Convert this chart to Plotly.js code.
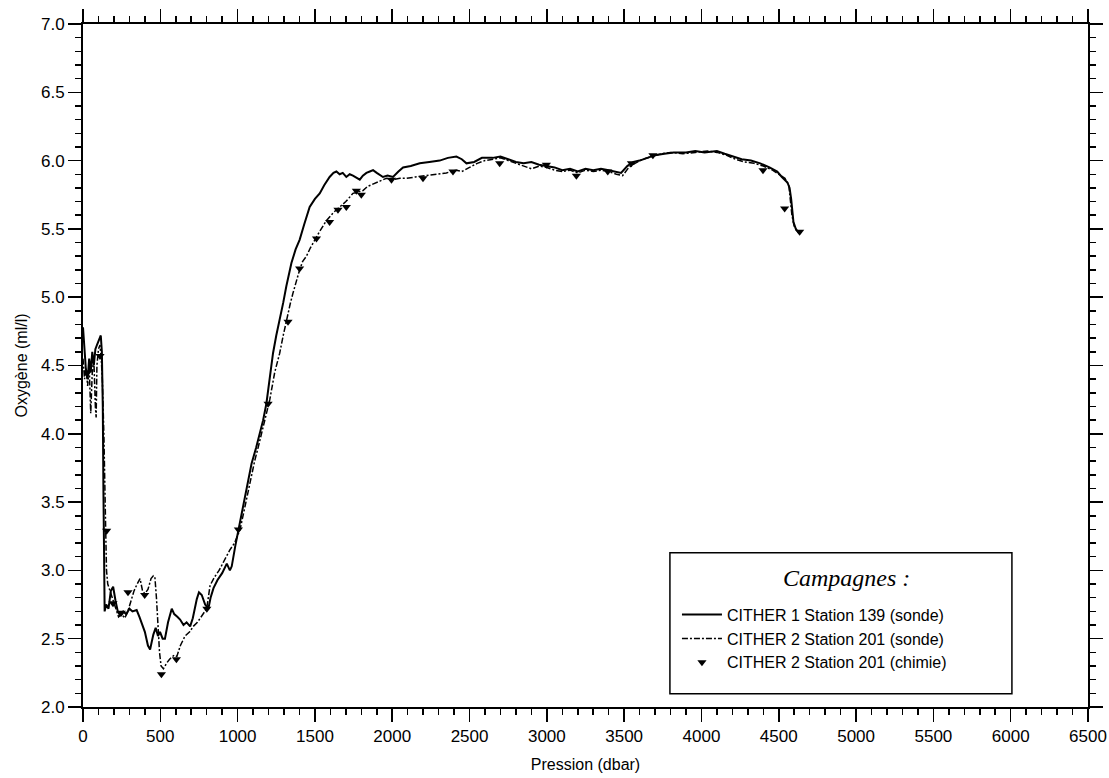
<!DOCTYPE html>
<html>
<head>
<meta charset="utf-8">
<script src="https://cdn.plot.ly/plotly-3.0.1.min.js"></script>
<style>html,body{margin:0;padding:0;background:#fff;}#chart{width:1109px;height:778px;}</style>
</head>
<body>
<div id="chart"></div>
<script>
// CITHER 1 Station 139 (sonde)
const c1Pres = [0,10,20,30,40,50,60,70,80,90,100,115,122,128,132,136,140,150,165,180,195,210,225,240,260,280,300,320,347,365,380,400,420,434,445,455,470,485,498,515,530,550,574,590,610,628,650,670,693,710,736,750,768,790,811,825,844,870,900,930,950,962,985,1006,1030,1060,1090,1120,1143,1165,1186,1210,1229,1250,1272,1295,1315,1330,1348,1375,1401,1430,1466,1500,1531,1560,1595,1620,1639,1660,1680,1703,1725,1746,1770,1790,1810,1833,1855,1876,1900,1940,1970,2005,2040,2070,2120,2178,2240,2307,2360,2415,2450,2480,2530,2580,2650,2700,2750,2800,2850,2900,2950,3000,3050,3100,3150,3200,3250,3300,3350,3400,3450,3480,3520,3560,3600,3650,3700,3760,3820,3900,3960,4020,4100,4150,4200,4260,4320,4380,4440,4490,4520,4556,4570,4580,4595,4610,4630,4645];
const c1Oxy  = [4.78,4.62,4.45,4.40,4.55,4.45,4.60,4.50,4.62,4.65,4.68,4.72,4.60,4.20,3.60,3.00,2.70,2.75,2.72,2.85,2.88,2.78,2.70,2.67,2.70,2.68,2.72,2.70,2.71,2.66,2.61,2.55,2.45,2.42,2.48,2.53,2.58,2.52,2.55,2.50,2.50,2.62,2.72,2.68,2.66,2.64,2.60,2.62,2.59,2.65,2.79,2.84,2.82,2.75,2.72,2.80,2.87,2.93,2.98,3.05,3.00,3.03,3.18,3.30,3.45,3.62,3.78,3.90,4.00,4.10,4.22,4.42,4.59,4.72,4.83,4.96,5.08,5.17,5.25,5.35,5.42,5.53,5.66,5.72,5.76,5.82,5.88,5.91,5.92,5.90,5.91,5.88,5.90,5.89,5.87,5.86,5.89,5.91,5.92,5.93,5.91,5.88,5.89,5.88,5.92,5.95,5.96,5.98,5.99,6.00,6.02,6.03,6.01,5.98,5.99,6.02,6.02,6.03,6.01,5.99,5.98,5.99,5.97,5.96,5.95,5.93,5.94,5.92,5.94,5.93,5.94,5.93,5.92,5.91,5.96,5.99,6.00,6.02,6.04,6.05,6.06,6.06,6.07,6.06,6.07,6.05,6.03,6.01,6.00,5.98,5.95,5.92,5.88,5.84,5.80,5.72,5.55,5.50,5.47,5.48];

// CITHER 2 Station 201 (sonde)
const c2Pres = [0,10,20,30,40,50,60,70,80,85,90,100,110,118,125,135,145,152,160,175,190,210,230,250,270,290,310,330,350,369,385,400,420,440,455,465,475,485,495,505,520,540,560,590,607,630,660,690,713,740,770,800,822,850,880,919,950,980,1016,1050,1080,1110,1135,1154,1180,1208,1240,1272,1295,1315,1340,1358,1380,1401,1420,1445,1470,1499,1530,1574,1620,1660,1700,1746,1780,1811,1840,1876,1920,1962,2000,2050,2092,2150,2221,2280,2350,2415,2450,2500,2550,2600,2650,2700,2750,2800,2850,2900,2950,3000,3050,3100,3150,3200,3250,3300,3350,3400,3450,3490,3530,3570,3620,3680,3740,3800,3880,3960,4040,4100,4160,4220,4280,4340,4400,4460,4500,4540,4565,4575,4585,4600,4620,4640];
const c2Oxy  = [4.55,4.40,4.48,4.35,4.50,4.15,4.45,4.55,4.20,4.12,4.50,4.62,4.65,4.55,4.40,4.00,3.40,3.00,2.90,2.85,2.80,2.72,2.66,2.68,2.65,2.70,2.78,2.85,2.90,2.94,2.85,2.83,2.86,2.94,2.96,2.95,2.80,2.55,2.40,2.30,2.28,2.32,2.35,2.38,2.37,2.45,2.52,2.55,2.59,2.62,2.67,2.72,2.89,2.95,3.00,3.08,3.15,3.20,3.30,3.48,3.65,3.80,3.91,4.00,4.12,4.25,4.45,4.59,4.72,4.83,4.95,5.03,5.12,5.20,5.26,5.30,5.36,5.42,5.48,5.56,5.62,5.66,5.70,5.76,5.77,5.78,5.81,5.83,5.85,5.87,5.86,5.87,5.87,5.88,5.89,5.90,5.91,5.93,5.92,5.95,5.98,6.00,6.01,6.02,6.00,5.98,5.96,5.94,5.96,5.95,5.93,5.92,5.93,5.91,5.93,5.92,5.93,5.92,5.90,5.89,5.95,5.98,6.01,6.03,6.05,6.06,6.05,6.06,6.07,6.06,6.04,6.01,5.99,5.98,5.96,5.93,5.90,5.87,5.82,5.70,5.60,5.52,5.48,5.47];

// CITHER 2 Station 201 (chimie)
const chimPres = [30,110,153,194,248,291,399,507,604,801,1005,1197,1326,1401,1510,1595,1649,1703,1768,1800,1995,2199,2393,2695,2997,3191,3394,3547,3686,4398,4538,4635];
const chimOxy  = [4.45,4.57,3.29,2.76,2.69,2.84,2.82,2.24,2.35,2.72,3.30,4.22,4.82,5.21,5.43,5.55,5.64,5.66,5.78,5.75,5.86,5.87,5.92,5.98,5.97,5.89,5.92,5.98,6.04,5.93,5.65,5.48];

const xTicks = [0,500,1000,1500,2000,2500,3000,3500,4000,4500,5000,5500,6000,6500];
const yTicks = [2.0,2.5,3.0,3.5,4.0,4.5,5.0,5.5,6.0,6.5,7.0];

const traces = [
  {x: c1Pres, y: c1Oxy, mode: 'lines', name: 'CITHER 1 Station 139 (sonde)',
   line: {color: '#000', width: 2}},
  {x: c2Pres, y: c2Oxy, mode: 'lines', name: 'CITHER 2 Station 201 (sonde)',
   line: {color: '#000', width: 1.5, dash: '6px,2px,2px,2px'}},
  {x: chimPres, y: chimOxy, mode: 'markers', name: 'CITHER 2 Station 201 (chimie)',
   marker: {symbol: 'triangle-down', size: 8, color: '#000'}}
];

const axisCommon = {
  showgrid: false, zeroline: false, showline: true, linecolor: '#000', linewidth: 2,
  ticks: 'outside', ticklen: 13, tickwidth: 1.5, tickcolor: '#000', mirror: 'ticks',
  tickfont: {family: 'Liberation Sans, Arial, sans-serif', size: 17, color: '#000'}
};

const layout = {
  width: 1109, height: 778,
  margin: {l: 83, r: 21, t: 24, b: 71},
  paper_bgcolor: '#fff', plot_bgcolor: '#fff',
  showlegend: true,
  xaxis: Object.assign({}, axisCommon, {
    range: [0, 6500], tickmode: 'array', tickvals: xTicks, ticktext: xTicks.map(String),
    minor: {dtick: 100, ticklen: 6, tickwidth: 1.5, tickcolor: '#000', ticks: 'outside'},
    title: {text: 'Pression (dbar)', standoff: 13, font: {family: 'Liberation Sans, Arial, sans-serif', size: 16, color: '#000'}}
  }),
  yaxis: Object.assign({}, axisCommon, {
    range: [2, 7], tickmode: 'array', tickvals: yTicks, ticktext: yTicks.map(v => v.toFixed(1)),
    minor: {dtick: 0.1, ticklen: 6, tickwidth: 1.5, tickcolor: '#000', ticks: 'outside'},
    title: {text: 'Oxygène (ml/l)', standoff: 9, font: {family: 'Liberation Sans, Arial, sans-serif', size: 16, color: '#000'}}
  }),
  legend: {
    x: 0.591, y: 0.160, xanchor: 'left', yanchor: 'top',
    bgcolor: 'rgba(0,0,0,0)', borderwidth: 0, itemwidth: 40,
    font: {family: 'Liberation Sans, Arial, sans-serif', size: 16, color: '#000'},
    tracegroupgap: 0
  },
  shapes: [
    {type: 'rect', xref: 'paper', yref: 'paper', x0: 0.584, x1: 0.9243, y0: 0.0195, y1: 0.2258,
     line: {color: '#000', width: 1.5}, fillcolor: 'rgba(0,0,0,0)', layer: 'above'}
  ],
  annotations: [
    {text: 'Campagnes :', xref: 'paper', yref: 'paper', x: 0.760, y: 0.189,
     xanchor: 'center', yanchor: 'middle', showarrow: false,
     font: {family: 'Liberation Serif, Times New Roman, serif', size: 24, color: '#000', style: 'italic'}}
  ]
};

Plotly.newPlot('chart', traces, layout, {displayModeBar: false, staticPlot: true});
</script>
</body>
</html>
